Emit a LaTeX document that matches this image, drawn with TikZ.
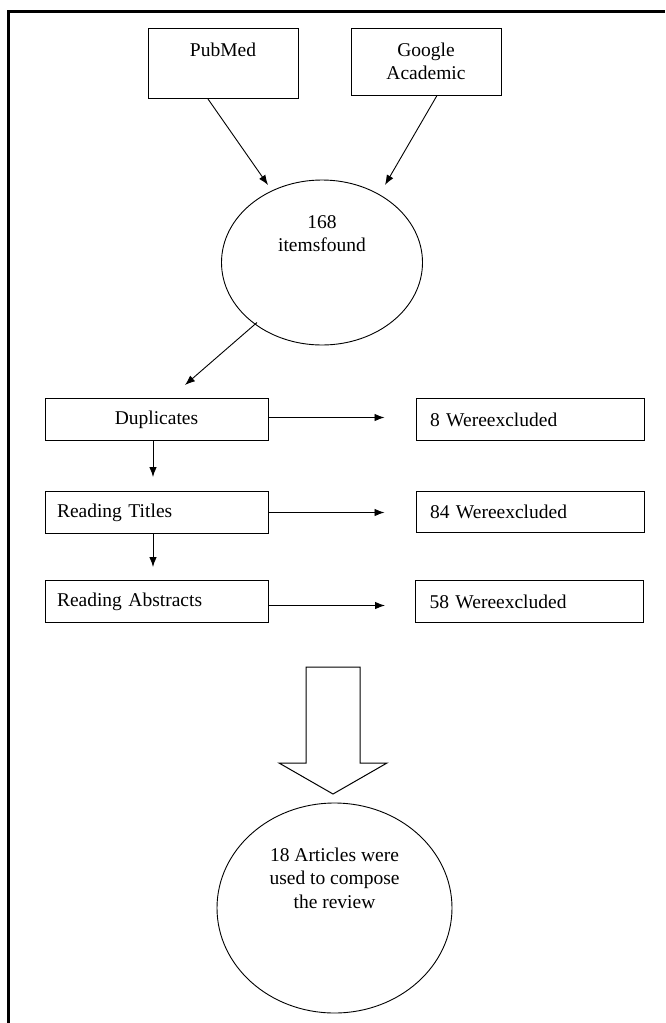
\documentclass[tikz,border=0pt]{standalone}
\usepackage{fontspec}
\setmainfont{Liberation Serif}
\usetikzlibrary{arrows.meta,positioning,calc,shapes.geometric}

\tikzset{
  srcbox/.style={draw, line width=1pt, minimum width=150, minimum height=70, align=center, inner sep=0pt},
  stepbox/.style={draw, line width=1pt, minimum width=223, minimum height=42, inner xsep=12pt, text width=199},
  exclbox/.style={draw, line width=1pt, minimum width=228, minimum height=42, text width=200, align=left, inner xsep=14pt},
  bubble/.style={draw, line width=0.9pt, ellipse, inner sep=0pt, align=center, text height=14pt},
  link/.style={->, line width=0.9pt}
}

\begin{document}
\begin{tikzpicture}[x=1pt, y=-1pt, >={Latex[length=10pt,width=7.5pt]},
  font=\fontsize{19.5}{23.5}\selectfont]
  \useasboundingbox (0,0) rectangle (665,1023);

  % Outer frame (left and top only)
  \draw[line width=3pt] (8,1023) -- (8,11) -- (665,11);

  % Sources
  \node[srcbox] (pubmed) at (223,63.5) {PubMed\\[5pt]~};
  \node[srcbox, minimum height=67] (google) at (426,61.5) {Google\\Academic};

  % Items found
  \node[bubble, minimum width=201, minimum height=165, text depth=36pt] (found) at (322,262.5) {168\\itemsfound};
  \coordinate (pubin) at (268,185);
  \coordinate (gooin) at (385,185);
  \draw[link] ([xshift=-15pt]pubmed.south) -- (pubin);
  \draw[link] ([xshift=11pt]google.south) -- (gooin);

  % Screening steps
  \node[stepbox, align=center] (dupl) at (156.5,419.5) {Duplicates};
  \node[stepbox, align=left] (titles) at (156.5,512.5) {Reading Titles};
  \node[stepbox, align=left] (abstr) at (156.5,601.5) {Reading Abstracts};

  \node[exclbox] (excl1) at (530,419.5) {8 Wereexcluded};
  \node[exclbox, minimum height=41] (excl2) at (530,512) {84 Wereexcluded};
  \node[exclbox] (excl3) at (529.5,601.5) {58 Wereexcluded};

  \coordinate (dupin) at (185,385);
  \draw[link] ($(found.center)+(-65,60)$) -- (dupin);

  \draw[link, shorten >=14pt] ([xshift=-3.5pt]dupl.south) -- ([xshift=-3.5pt]titles.north);
  \draw[link, shorten >=13pt] ([xshift=-3.5pt]titles.south) -- ([xshift=-3.5pt]abstr.north);

  \draw[link, shorten >=31pt] ([yshift=2pt]dupl.east) -- ([yshift=2pt]excl1.west);
  \draw[link, shorten >=31pt] (titles.east) -- (excl2.west |- titles.east);
  \draw[link, shorten >=30pt] ([yshift=-4pt]abstr.east) -- ([yshift=-4pt]excl3.west);

  % Block arrow down to result
  \draw[line width=1pt] (306,667) -- (360,667) -- (360,763) -- (387,763) -- (333,794)
    -- (279,763) -- (306,763) -- cycle;

  % Result
  \node[bubble, minimum width=235, minimum height=210, text depth=14pt] (result) at (334.5,908) {18 Articles were\\used to compose\\the review};
\end{tikzpicture}
\end{document}
